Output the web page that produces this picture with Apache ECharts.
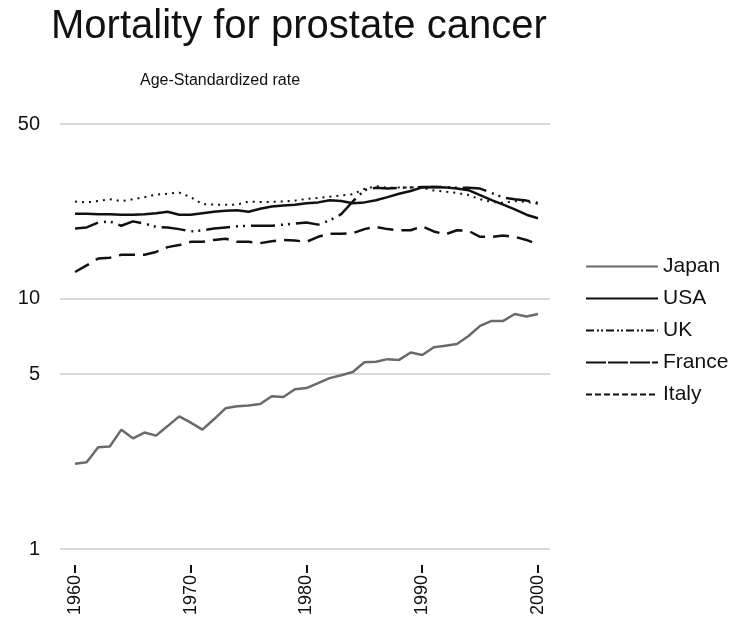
<!DOCTYPE html>
<html>
<head>
<meta charset="utf-8">
<script src="https://cdn.jsdelivr.net/npm/echarts@6/dist/echarts.min.js"></script>
<style>
html, body { margin: 0; padding: 0; background: #fff; }
#main { width: 754px; height: 637px; }
</style>
</head>
<body>
<div id="main"></div>
<script>
var years = [];
for (var y = 1960; y <= 2000; y++) years.push(y);

var japan = [2.19, 2.22, 2.55, 2.57, 3.0, 2.77, 2.92, 2.84, 3.1, 3.39,
    3.2, 3.0, 3.3, 3.65, 3.72, 3.75, 3.8, 4.08, 4.05, 4.35,
    4.4, 4.6, 4.82, 4.95, 5.1, 5.58, 5.6, 5.74, 5.7, 6.1,
    5.96, 6.4, 6.5, 6.6, 7.1, 7.8, 8.16, 8.16, 8.7, 8.5, 8.7];
var usa = [21.9, 21.9, 21.8, 21.8, 21.7, 21.7, 21.8, 22.0, 22.3, 21.7,
    21.7, 22.0, 22.3, 22.5, 22.6, 22.3, 22.9, 23.4, 23.6, 23.8,
    24.1, 24.3, 24.8, 24.6, 24.1, 24.3, 24.8, 25.5, 26.3, 27.0,
    27.9, 28.0, 27.9, 27.6, 27.2, 26.0, 24.8, 23.8, 22.8, 21.7, 21.0];
var uk = [19.1, 19.3, 20.2, 20.4, 19.6, 20.4, 20.0, 19.4, 19.3, 19.0,
    18.6, 18.8, 19.1, 19.3, 19.5, 19.6, 19.6, 19.6, 19.8, 20.0,
    20.2, 19.8, 20.6, 21.8, 24.5, 27.2, 27.8, 27.6, 27.8, 27.9,
    28.0, 28.0, 28.0, 27.8, 27.8, 27.6, 26.5, 25.4, 25.0, 24.7, 24.2];
var france = [24.5, 24.3, 24.6, 25.0, 24.6, 25.0, 25.5, 26.1, 26.3, 26.6,
    25.5, 23.9, 23.8, 23.8, 23.8, 24.5, 24.4, 24.4, 24.5, 24.7,
    25.1, 25.3, 25.6, 25.9, 26.2, 27.5, 28.2, 27.8, 27.9, 27.9,
    27.8, 27.1, 26.8, 26.5, 26.0, 25.0, 24.4, 24.2, 24.6, 24.4, 24.0];
var italy = [12.8, 13.6, 14.5, 14.6, 15.0, 15.0, 15.0, 15.4, 16.1, 16.4,
    16.9, 16.9, 17.2, 17.4, 16.9, 16.9, 16.7, 17.0, 17.2, 17.1,
    16.9, 17.7, 18.2, 18.2, 18.3, 19.0, 19.4, 19.0, 18.8, 18.8,
    19.5, 18.6, 18.1, 18.8, 18.7, 17.7, 17.7, 17.9, 17.7, 17.2, 16.5];

var xTicks = [1960, 1970, 1980, 1990, 2000];
var yTicks = [1, 5, 10, 50];

function pairs(vals) {
    return years.map(function (yr, i) { return [yr, vals[i]]; });
}

var font = 'Liberation Sans, Arial, sans-serif';

var myChart = echarts.init(document.getElementById('main'));
var option = {
    backgroundColor: '#fff',
    animation: false,
    textStyle: { fontFamily: font },
    title: [
        {
            text: 'Mortality for prostate cancer',
            left: 46,
            top: 2,
            textStyle: { fontSize: 40, fontWeight: 'normal', color: '#111', fontFamily: font }
        },
        {
            text: 'Age-Standardized rate',
            left: 135,
            top: 68,
            textStyle: { fontSize: 16, fontWeight: 'normal', color: '#111', fontFamily: font }
        }
    ],
    legend: {
        orient: 'vertical',
        left: 580,
        top: 251,
        itemWidth: 72,
        itemHeight: 20,
        itemGap: 11,
        itemStyle: { opacity: 0 },   // line only, no marker dot
        textStyle: { fontSize: 21, color: '#111', fontFamily: font, lineHeight: 20 },
        data: [
            { name: 'Japan' },
            { name: 'USA' },
            { name: 'UK', lineStyle: { type: [8, 3, 2, 2, 2, 3] } },
            { name: 'France', lineStyle: { type: [20, 2] } },
            { name: 'Italy', lineStyle: { type: [6, 3] } }
        ]
    },
    grid: { left: 60, right: 204, top: 124, bottom: 88 },
    xAxis: {
        type: 'value',
        min: 1958.7,
        max: 2001.04,
        offset: 16,
        axisLine: { show: false },
        splitLine: { show: false },
        axisTick: { show: true, length: 8, customValues: xTicks, lineStyle: { color: '#111', width: 2 } },
        axisLabel: {
            customValues: xTicks,
            rotate: 90,
            margin: 10,
            fontSize: 18,
            color: '#111',
            fontFamily: font,
            formatter: function (v) { return String(v); }
        }
    },
    yAxis: {
        type: 'log',
        logBase: 10,
        min: 1,
        max: 50,
        axisLine: { show: false },
        axisTick: { show: false, customValues: yTicks },
        axisLabel: {
            customValues: yTicks,
            margin: 20,
            fontSize: 20,
            color: '#111',
            fontFamily: font,
            formatter: function (v) { return String(Math.round(v)); }
        },
        splitLine: { show: true, lineStyle: { color: '#d9d9d9', width: 2 } }
    },
    series: [
        { name: 'Japan', type: 'line', symbol: 'none', data: pairs(japan),
          lineStyle: { color: '#6a6a6a', width: 2.5 }, itemStyle: { color: '#6a6a6a' } },
        { name: 'Italy', type: 'line', symbol: 'none', data: pairs(italy),
          lineStyle: { color: '#111', width: 2.5, type: [16, 8] }, itemStyle: { color: '#111' } },
        { name: 'UK', type: 'line', symbol: 'none', data: pairs(uk),
          lineStyle: { color: '#111', width: 2.5, type: [24, 6, 2, 5, 2, 6] }, itemStyle: { color: '#111' } },
        { name: 'France', type: 'line', symbol: 'none', data: pairs(france),
          lineStyle: { color: '#111', width: 2, type: [2, 5] }, itemStyle: { color: '#111' } },
        { name: 'USA', type: 'line', symbol: 'none', data: pairs(usa),
          lineStyle: { color: '#111', width: 2.5 }, itemStyle: { color: '#111' } }
    ]
};

myChart.setOption(option);
</script>
</body>
</html>
